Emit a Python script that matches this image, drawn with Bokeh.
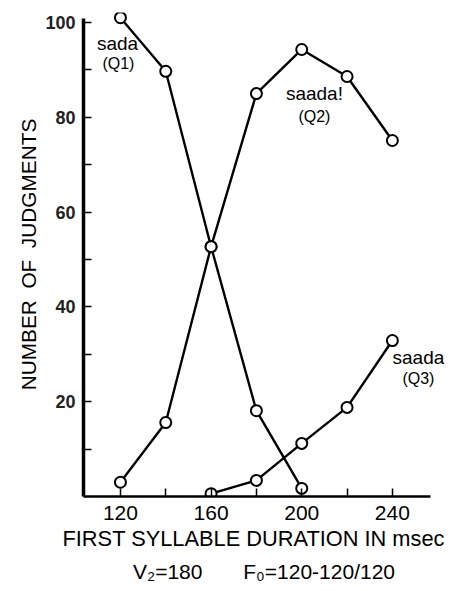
from bokeh.plotting import figure
from bokeh.models import Label, FixedTicker, Range1d, Title
from bokeh.embed import file_html
from bokeh.resources import INLINE

# Data
q1_x = [120, 140, 160, 180, 200]
q1_y = [101.0, 89.7, 52.7, 18.1, 1.7]
q2_x = [120, 140, 160, 180, 200, 220, 240]
q2_y = [3.0, 15.6, 52.7, 85.0, 94.3, 88.6, 75.1]
q3_x = [160, 180, 200, 220, 240]
q3_y = [0.6, 3.4, 11.2, 18.8, 32.9]

x_ticks = [120, 140, 160, 180, 200, 220, 240]
x_tick_labels = {120: "120", 140: "", 160: "160", 180: "", 200: "200", 220: "", 240: "240"}
y_ticks = [10, 20, 30, 40, 50, 60, 70, 80, 90, 100]
y_tick_labels = {10: "", 20: "20", 30: "", 40: "40", 50: "", 60: "60", 70: "", 80: "80", 90: "", 100: "100"}

x_title = "FIRST SYLLABLE DURATION IN msec"
y_title = "NUMBER\u00a0 OF\u00a0 JUDGMENTS"
bottom_note = "V\u2082=180" + "\u00a0" * 7 + "F\u2080=120-120/120"

FONT = "Liberation Sans"

p = figure(width=450, height=589, output_backend="svg", toolbar_location=None,
           x_range=Range1d(103.7, 263.0), y_range=Range1d(0, 102.1),
           min_border_left=83, min_border_right=6, min_border_top=12, min_border_bottom=6)
p.frame_width = 361
p.frame_height = 484
p.outline_line_color = None
p.xgrid.grid_line_color = None
p.ygrid.grid_line_color = None
p.background_fill_color = "white"

# axes
xa = p.xaxis[0]
xa.ticker = FixedTicker(ticks=x_ticks)
xa.major_label_overrides = x_tick_labels
xa.bounds = (103.7, 256.7)
xa.axis_line_width = 2.5
xa.axis_line_color = "black"
xa.major_tick_in = 8
xa.major_tick_out = 0
xa.major_tick_line_width = 1.5
xa.minor_tick_line_color = None
xa.major_label_text_font = FONT
xa.major_label_text_font_size = "21px"
xa.major_label_text_color = "black"
xa.major_label_standoff = 9

ya = p.yaxis[0]
ya.ticker = FixedTicker(ticks=y_ticks)
ya.major_label_overrides = y_tick_labels
ya.bounds = (0, 100.8)
ya.axis_line_width = 3.5
ya.axis_line_color = "black"
ya.major_tick_in = 8
ya.major_tick_out = 0
ya.major_tick_line_width = 1.5
ya.minor_tick_line_color = None
ya.major_label_text_font = FONT
ya.major_label_text_font_size = "18px"
ya.major_label_text_font_style = "bold"
ya.major_label_text_color = "#222222"
ya.major_label_standoff = 8

# titles placed around the frame
p.add_layout(Title(text=y_title, align="center", offset=-6, text_font=FONT,
                   text_font_size="20.8px", text_font_style="normal",
                   text_color="black", standoff=6), "left")
p.add_layout(Title(text=x_title, align="left", offset=-21, text_font=FONT,
                   text_font_size="21.8px", text_font_style="normal",
                   text_color="black", standoff=2), "below")
p.add_layout(Title(text=bottom_note, align="center", text_font=FONT,
                   text_font_size="21px", text_font_style="normal",
                   text_color="black", standoff=12), "below")

# series
for xs, ys in [(q1_x, q1_y), (q2_x, q2_y), (q3_x, q3_y)]:
    p.line(xs, ys, line_color="black", line_width=2.4)
    p.scatter(xs, ys, size=11, marker="circle", fill_color="white",
              line_color="black", line_width=2)

def lab(x, y, txt, size):
    p.add_layout(Label(x=x, y=y, text=txt, text_font=FONT, text_font_size=size,
                       text_align="center", text_baseline="middle",
                       text_color="black"))

lab(118.7, 95.6, "sada", "19px")
lab(119.1, 91.4, "(Q1)", "16px")
lab(205.6, 85.0, "saada!", "19px")
lab(205.6, 80.2, "(Q2)", "16px")
lab(251.5, 29.3, "saada", "19px")
lab(251.5, 24.9, "(Q3)", "16px")

open("out.html", "w").write(file_html(p, INLINE))
